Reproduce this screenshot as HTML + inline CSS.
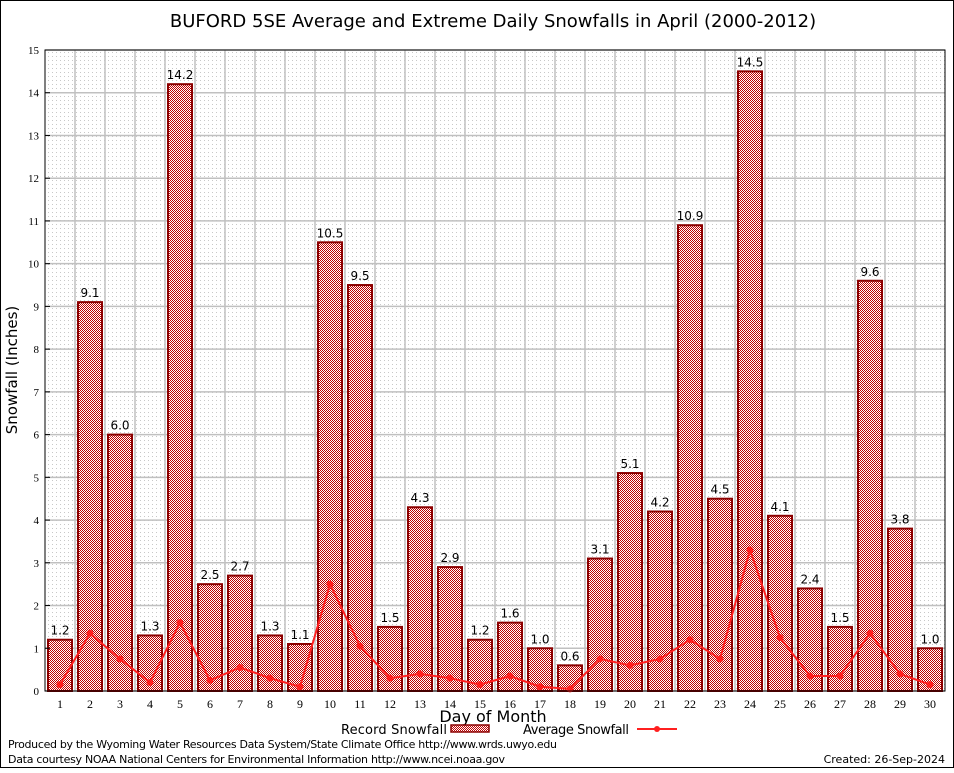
<!DOCTYPE html>
<html><head><meta charset="utf-8"><style>
body{margin:0;background:#fff;}
svg text{font-family:"DejaVu Sans","Liberation Sans",sans-serif;}
svg text.serif{font-family:"Liberation Serif",serif;}
</style></head><body>
<svg id="chart" width="954" height="768" xmlns="http://www.w3.org/2000/svg">
<defs>
<pattern id="hatch" width="2" height="2" patternUnits="userSpaceOnUse">
<rect width="2" height="2" fill="#fff"/>
<rect x="0" y="0" width="1" height="1" fill="#c00000"/>
<rect x="1" y="1" width="1" height="1" fill="#c00000"/>
</pattern>
<pattern id="dots" width="4" height="4" patternUnits="userSpaceOnUse">
<rect x="0" y="0" width="1" height="1" fill="#c8c8c8"/>
</pattern>
</defs>
<rect x="0.5" y="0.5" width="953" height="767" fill="#fff" stroke="#000"/>
<text x="493" y="27" font-size="18" text-anchor="middle">BUFORD 5SE Average and Extreme Daily Snowfalls in April (2000-2012)</text>
<rect x="45" y="50" width="900" height="641" fill="url(#dots)"/>
<g id="grid"></g>
<g id="bars"></g>
<g id="line"></g>
<g id="axes"></g>
<text transform="translate(17,370) rotate(-90)" font-size="15" text-anchor="middle">Snowfall (Inches)</text>
<text x="493" y="722" font-size="16" text-anchor="middle">Day of Month</text>
<g>
<text x="447" y="734" font-size="13" text-anchor="end" textLength="106">Record Snowfall</text>
<rect x="451" y="725" width="38" height="7" fill="url(#hatch)" stroke="#8b0000" stroke-width="1.5"/>
</g>
<g>
<text x="523" y="734" font-size="13" textLength="106">Average Snowfall</text>
<line x1="637" y1="729" x2="677" y2="729" stroke="#ff2020" stroke-width="2"/>
<circle cx="657" cy="729" r="3" fill="#ff2020"/>
</g>
<text x="8" y="748" font-size="11" textLength="549">Produced by the Wyoming Water Resources Data System/State Climate Office http://www.wrds.uwyo.edu</text>
<text x="8" y="763" font-size="11" textLength="497">Data courtesy NOAA National Centers for Environmental Information http://www.ncei.noaa.gov</text>
<text x="945" y="763" font-size="11" text-anchor="end">Created: 26-Sep-2024</text>
</svg>
<script>
const days=[1,2,3,4,5,6,7,8,9,10,11,12,13,14,15,16,17,18,19,20,21,22,23,24,25,26,27,28,29,30];
const recordSnow=[1.2,9.1,6.0,1.3,14.2,2.5,2.7,1.3,1.1,10.5,9.5,1.5,4.3,2.9,1.2,1.6,1.0,0.6,3.1,5.1,4.2,10.9,4.5,14.5,4.1,2.4,1.5,9.6,3.8,1.0];
const avgSnow=[0.15,1.35,0.75,0.2,1.6,0.25,0.55,0.3,0.1,2.5,1.05,0.3,0.4,0.3,0.15,0.35,0.1,0.05,0.75,0.6,0.75,1.2,0.75,3.3,1.25,0.35,0.35,1.35,0.4,0.15];
const yTicks=[0,1,2,3,4,5,6,7,8,9,10,11,12,13,14,15];
const NS="http://www.w3.org/2000/svg";
const L=45,R=945,T=50,B=691,YMAX=15;
const xs=d=>L+15+(d-1)*30;
const ys=v=>B-v*(B-T)/YMAX;
function mk(tag,attrs,parent){const e=document.createElementNS(NS,tag);for(const k in attrs)e.setAttribute(k,attrs[k]);parent.appendChild(e);return e;}
const grid=document.getElementById('grid'),bars=document.getElementById('bars'),line=document.getElementById('line'),axes=document.getElementById('axes');
yTicks.forEach(t=>{
 const g=mk('line',{x1:L,x2:R,y1:ys(t),y2:ys(t),stroke:'#c0c0c0','stroke-width':1.5},grid);
 
 
 const tk=mk('line',{x1:L,x2:L+5,y1:ys(t),y2:ys(t),stroke:'#000'},axes);
 
 
 const tx=mk('text',{x:L-6,y:ys(t)+4,'font-size':11,'text-anchor':'end','class':'serif'},axes);
 tx.textContent=t;
 
 
});
days.forEach((d,i)=>{
 if(i<days.length-1){const g=mk('line',{x1:xs(d)+15,x2:xs(d)+15,y1:T,y2:B,stroke:'#c0c0c0','stroke-width':1.5},grid);
 
 }
 const v=recordSnow[i];
 const r=mk('rect',{x:xs(d)-12,y:ys(v),width:24,height:B-ys(v),fill:'url(#hatch)',stroke:'#8b0000','stroke-width':2},bars);
 
 
 const lb=mk('text',{x:xs(d),y:ys(v)-5,'font-size':12,'text-anchor':'middle'},bars);
 lb.textContent=v.toFixed(1);
 
 
 const tx=mk('text',{x:xs(d),y:B+17,'font-size':12,'text-anchor':'middle','class':'serif'},axes);
 tx.textContent=d;
 
 
});
const pts=days.map((d,i)=>xs(d)+','+ys(avgSnow[i])).join(' ');
const pl=mk('polyline',{points:pts,fill:'none',stroke:'#ff2020','stroke-width':2},line);


days.forEach((d,i)=>{
 const c=mk('circle',{cx:xs(d),cy:ys(avgSnow[i]),r:3.5,fill:'#ff2020'},line);
 
 
});
const ax=mk('rect',{x:L,y:T,width:R-L,height:B-T,fill:'none',stroke:'#000','stroke-width':1},axes);


</script>
</body></html>
